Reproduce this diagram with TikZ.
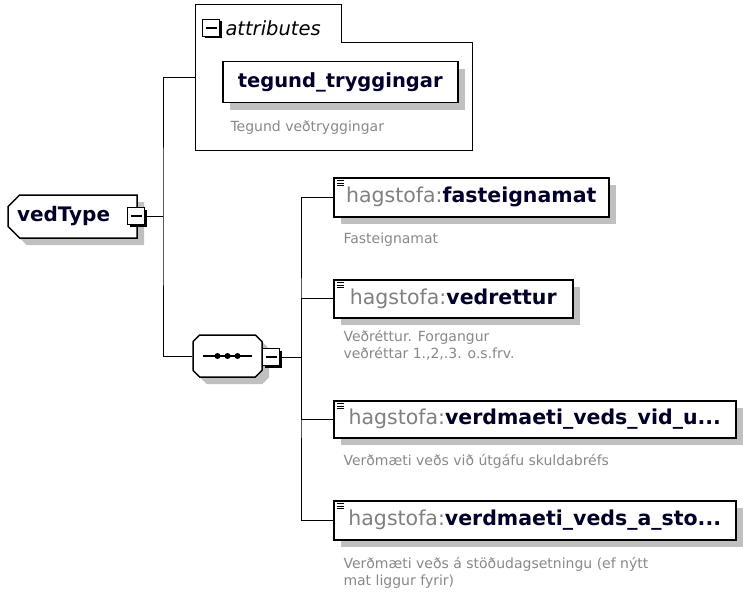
\documentclass[tikz,border=0pt]{standalone}
\usepackage{fontspec}
\setmainfont{DejaVu Sans}
\usetikzlibrary{shadows}
\usetikzlibrary{shapes.misc}
\definecolor{nsgray}{RGB}{128,128,128}
\definecolor{descgray}{RGB}{136,136,136}
\definecolor{namecol}{RGB}{0,0,40}
\definecolor{shade}{RGB}{192,192,192}
\newcommand{\hs}[1]{{\color{nsgray}hagstofa:}{\bfseries\color{namecol}#1}}

\begin{document}
\begin{tikzpicture}[x=1pt, y=-1pt, line width=1pt,
  elem/.style = {draw, line width=1.5pt, fill=white, anchor=north west, inner sep=0pt,
    font=\fontsize{20.5}{22}\selectfont,
    drop shadow={shadow xshift=7pt, shadow yshift=-7pt, fill=shade, opacity=1}},
  icon/.style = {path picture={\foreach \k in {0,1,2}
    \draw[line width=0.9pt] ([xshift=3pt,yshift={-3pt-2.2pt*\k}]path picture bounding box.north west) -- ++(7pt,0);}},
  minus/.style = {draw, fill=white, minimum size=17pt, inner sep=0pt, line width=1.3pt,
    drop shadow={shadow xshift=2pt, shadow yshift=-2pt, fill=black, opacity=1},
    path picture={\draw[line width=1.3pt] ([xshift=3pt]path picture bounding box.west) -- ([xshift=-3pt]path picture bounding box.east);}},
  cut/.style = {draw, fill=white, chamfered rectangle, line width=1.5pt,
    drop shadow={shadow xshift=7pt, shadow yshift=-7pt, fill=shade, opacity=1}},
  desc/.style = {anchor=north west, align=left, inner sep=0pt, text=descgray,
    font=\fontsize{14}{17}\selectfont}]

\useasboundingbox (0,0) rectangle (743,607);

\node[cut, chamfered rectangle corners={north west,south west}, chamfered rectangle xsep=8pt,
  minimum height=43pt, text width=111pt, inner xsep=1pt, align=left,
  font=\bfseries\fontsize{20}{22}\selectfont, text=namecol] (vt) at (72.5,216.5) {vedType};
\node[minus] (vtm) at (136,216) {};

\draw (195,150) -- (195,5) -- (341,5) -- (341,43) -- (472,43) -- (472,150) -- cycle;
\node[minus] (am) at (211,28) {};
\node[anchor=west, inner sep=0pt, font=\itshape\fontsize{19.5}{22}\selectfont] (alab) at (225,28) {attributes};
\node[elem, minimum width=235pt, minimum height=41pt, font=\bfseries\fontsize{19.5}{22}\selectfont,
  text=namecol] (tt) at (222,61) {tegund\_tryggingar};
\node[desc] (d0) at (230,120) {Tegund veðtryggingar};

\node[cut, chamfered rectangle xsep=9pt, minimum width=69pt, minimum height=42pt] (seq) at (227.5,356) {};
\draw[line width=1.3pt] (seq.center) ++(-24.5pt,0) -- ++(49pt,0);
\foreach \d in {-10,0,10}
  \fill ([xshift=\d pt]seq.center) circle (3pt);
\node[minus] (seqm) at (271,357) {};

\node[elem, icon, minimum width=275pt, minimum height=39pt] (e1) at (333,177) {\hs{fasteignamat}};
\node[desc] (d1) at (343,232) {Fasteignamat};
\node[elem, icon, minimum width=239pt, minimum height=38pt] (e2) at (333,279) {\hs{vedrettur}};
\node[desc] (d2) at (343,330) {Veðréttur. Forgangur\\veðréttar 1.,2,.3. o.s.frv.};
\node[elem, icon, minimum width=402pt, minimum height=37pt] (e3) at (333,400) {\hs{verdmaeti\_veds\_vid\_u...}};
\node[desc] (d3) at (343,454) {Verðmæti veðs við útgáfu skuldabréfs};
\node[elem, icon, minimum width=402pt, minimum height=39pt] (e4) at (333,500) {\hs{verdmaeti\_veds\_a\_sto...}};
\node[desc] (d4) at (343,557) {Verðmæti veðs á stöðudagsetningu (ef nýtt\\mat liggur fyrir)};

\coordinate (ain) at (195,78);
\coordinate (j1) at (163,216);
\coordinate (j2) at (301,357);
\draw (vtm.east) -- (j1);
\draw (ain) -| (j1) |- (seq.west);
\draw (seqm.east) -- (j2);
\draw (e1.west) -| (j2) |- (e4.west);
\draw (j2) |- (e2.west);
\draw (j2) |- (e3.west);

\end{tikzpicture}
\end{document}
